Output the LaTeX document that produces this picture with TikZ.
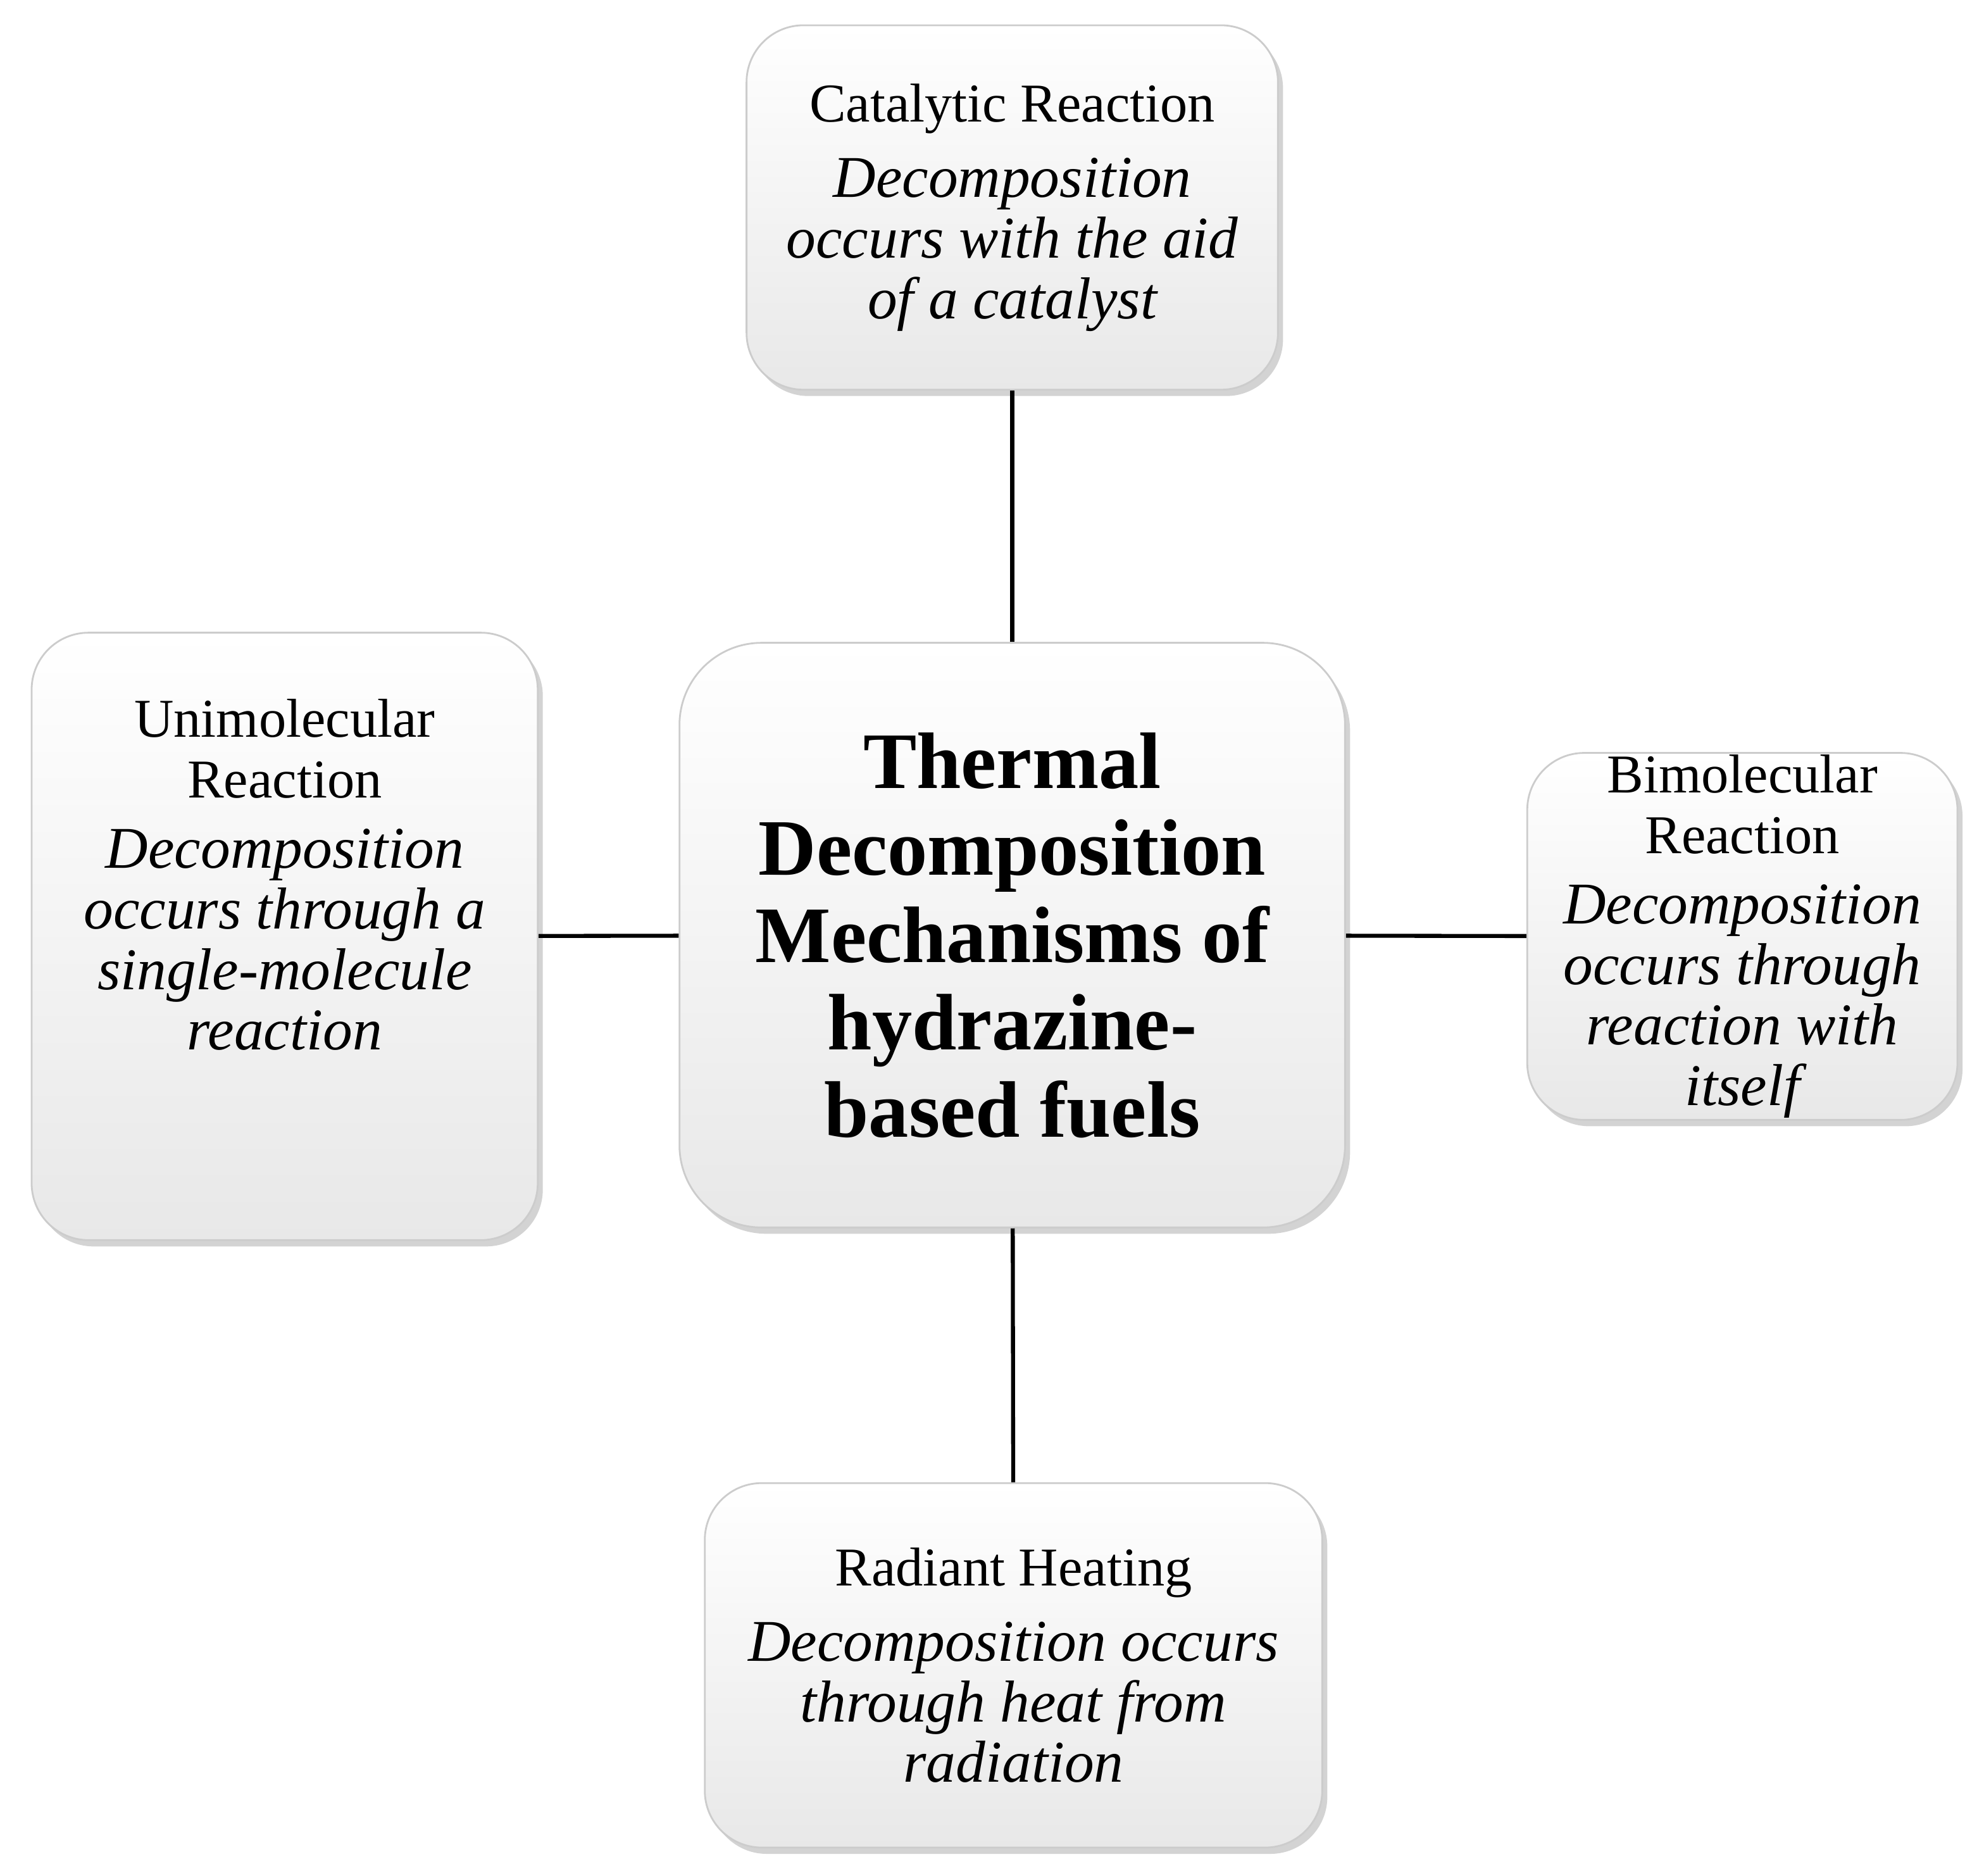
\documentclass[tikz,border=0pt]{standalone}
\usepackage{fontspec}
\setmainfont{Liberation Serif}
\usetikzlibrary{shadows}
\newcommand{\descfont}{\fontsize{13.3}{13.6}\selectfont\itshape}
\begin{document}
\begin{tikzpicture}[
        box/.style = {draw=gray!40, rounded corners=0.45cm, top color=white, bottom color=gray!18,
                      drop shadow={shadow xshift=0.04cm, shadow yshift=-0.05cm, opacity=0.35},
                      align=center, font=\fontsize{12.3}{13.6}\selectfont, inner sep=0pt},
        link/.style = {line width=0.9pt, black}
        ]
        \useasboundingbox (0,0) rectangle (15.68,14.82);

        \node (centre) at (8.00,7.43) [box, rounded corners=0.65cm, minimum width=5.26cm, minimum height=4.62cm,
            font=\fontsize{18}{19.6}\bfseries\selectfont]
            {Thermal\\Decomposition\\Mechanisms of\\hydrazine-\\based fuels};
        \node (catalytic) at (8.00,13.18) [box, minimum width=4.20cm, minimum height=2.88cm]
            {Catalytic Reaction\\[0.12cm]\descfont Decomposition\\\descfont occurs with the aid\\\descfont of a catalyst};
        \node (unimol) at (2.25,7.42) [box, minimum width=4.00cm, minimum height=4.80cm]
            {Unimolecular\\Reaction\\[0.08cm]\descfont Decomposition\\\descfont occurs through a\\\descfont single-molecule\\\descfont reaction\\[0.5cm]\mbox{}};
        \node (bimol) at (13.77,7.42) [box, minimum width=3.40cm, minimum height=2.90cm]
            {Bimolecular\\Reaction\\[0.08cm]\descfont Decomposition\\\descfont occurs through\\\descfont reaction with\\\descfont itself};
        \node (radiant) at (8.01,1.66) [box, minimum width=4.88cm, minimum height=2.88cm]
            {Radiant Heating\\[0.12cm]\descfont Decomposition occurs\\\descfont through heat from\\\descfont radiation};

        \draw[link] (catalytic) -- (centre);
        \draw[link] (unimol) -- (centre);
        \draw[link] (bimol) -- (centre);
        \draw[link] (radiant) -- (centre);
    \end{tikzpicture}
\end{document}
